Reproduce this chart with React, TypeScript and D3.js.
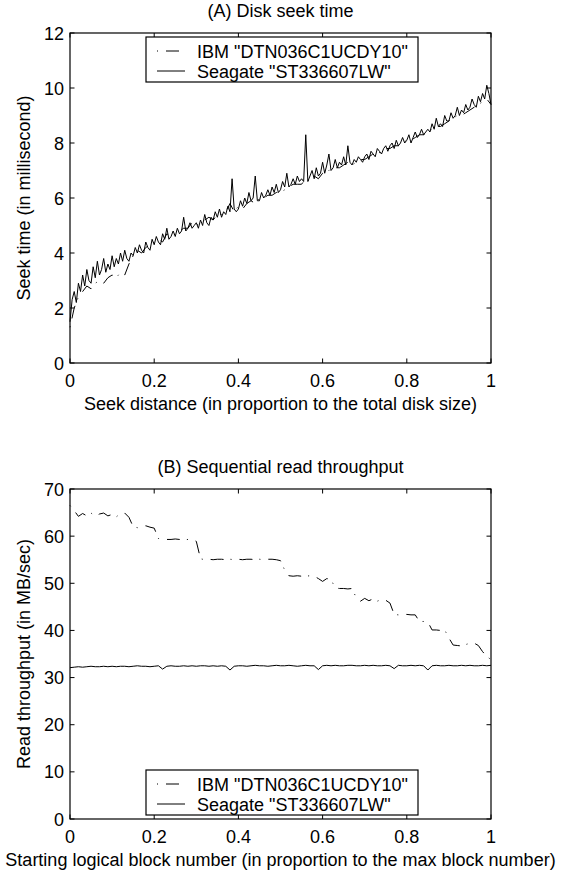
import React from 'react';
import * as d3 from 'd3';

// every series is sampled evenly from 0 to 1 along the x axis
const xTicks = [0, 0.2, 0.4, 0.6, 0.8, 1];
const xTickLabels = ['0', '0.2', '0.4', '0.6', '0.8', '1'];
const seekTicks = [0, 2, 4, 6, 8, 10, 12];
const tputTicks = [0, 10, 20, 30, 40, 50, 60, 70];
const seriesNames = ['IBM "DTN036C1UCDY10"', 'Seagate "ST336607LW"'];

// step 0.01
const ibmSeek = [
  1.3, 2.0, 2.4, 2.6, 2.8, 2.7, 2.9, 3.0, 2.9, 3.1,
  3.2, 3.1, 3.3, 3.2, 3.6, 3.9, 4.1, 4.0, 4.2, 4.3,
  4.4, 4.5, 4.4, 4.7, 4.6, 4.7, 4.8, 4.9, 4.9, 5.1,
  5.0, 5.1, 5.2, 5.3, 5.2, 5.4, 5.4, 5.5, 5.8, 5.5,
  5.7, 5.6, 5.8, 5.9, 5.8, 6.0, 6.0, 6.1, 6.1, 6.2,
  6.2, 6.3, 6.4, 6.5, 6.5, 6.5, 6.7, 6.6, 6.8, 6.7,
  6.9, 6.9, 7.1, 7.1, 7.1, 7.2, 7.3, 7.2, 7.3, 7.4,
  7.4, 7.5, 7.6, 7.6, 7.7, 7.8, 7.8, 7.9, 7.9, 8.0,
  8.1, 8.1, 8.2, 8.3, 8.3, 8.4, 8.5, 8.6, 8.6, 8.7,
  8.8, 8.9, 9.0, 9.0, 9.1, 9.2, 9.3, 9.4, 9.5, 9.6,
  9.4,
];

// step 0.005
const seagateSeek = [
  1.5, 2.3, 2.6, 2.2, 2.9, 2.6, 3.2, 2.8, 3.4, 3.0,
  2.9, 3.5, 3.1, 3.7, 3.2, 3.4, 3.8, 3.3, 3.6, 3.4,
  3.9, 3.5, 3.8, 3.6, 4.0, 3.7, 4.1, 3.8, 3.7, 4.0,
  3.9, 4.2, 4.0, 4.3, 4.1, 4.0, 4.4, 4.2, 4.1, 4.5,
  4.3, 4.6, 4.4, 4.3, 4.7, 4.5, 4.9, 4.5, 4.6, 4.8,
  4.6, 4.9, 4.7, 4.8, 5.3, 4.8, 4.9, 5.1, 4.9, 5.0,
  5.1, 4.9, 5.2, 5.0, 5.4, 5.1, 5.0, 5.3, 5.2, 5.5,
  5.3, 5.6, 5.3, 5.5, 5.4, 5.7, 5.5, 6.7, 5.6, 5.5,
  5.6, 5.9, 5.7, 6.0, 5.8, 6.2, 5.9, 6.0, 6.8, 5.9,
  5.9, 6.2, 6.0, 6.1, 6.3, 6.1, 6.4, 6.2, 6.5, 6.2,
  6.3, 6.6, 6.4, 6.9, 6.4, 6.5, 6.7, 6.5, 6.8, 6.6,
  6.7, 6.6, 8.3, 6.6, 6.8, 7.0, 6.7, 7.1, 6.8, 6.9,
  7.3, 6.9, 7.2, 7.6, 7.0, 7.1, 7.4, 7.1, 7.3, 7.2,
  7.5, 7.2, 7.9, 7.3, 7.2, 7.4, 7.3, 7.5, 7.4, 7.3,
  7.5, 7.6, 7.4, 7.7, 7.6, 7.5, 7.8, 7.7, 7.6, 7.8,
  7.9, 7.7, 7.9, 8.0, 7.8, 8.1, 7.9, 8.0, 8.2, 8.0,
  8.1, 8.3, 8.0, 8.2, 8.4, 8.2, 8.3, 8.5, 8.3, 8.4,
  8.5, 8.4, 8.7, 8.5, 8.9, 8.6, 8.7, 8.6, 9.0, 8.8,
  8.8, 9.1, 8.9, 9.0, 9.3, 9.0, 9.2, 9.1, 9.4, 9.2,
  9.3, 9.6, 9.4, 9.3, 9.7, 9.5, 9.8, 9.6, 10.1, 9.8,
  9.4,
];

// step 0.01
const ibmTput = [
  66.5, 65.4, 64.2, 64.8, 64.3, 64.9, 64.2, 64.7, 64.9, 64.3,
  64.6, 64.1, 64.8, 64.9, 64.0, 62.0, 61.8, 61.9, 62.2, 61.9,
  61.7, 59.5, 59.4, 59.3, 59.3, 59.4, 59.3, 59.2, 59.3, 59.3,
  58.9, 55.2, 55.0, 55.1, 55.0, 55.1, 55.1, 55.0, 55.1, 55.0,
  55.1, 55.0, 55.1, 55.1, 55.0, 55.1, 55.0, 55.1, 55.1, 55.0,
  54.8, 52.8, 51.6, 51.5, 51.6, 51.5, 51.5, 51.6, 51.5, 51.0,
  50.4, 51.0, 50.8, 49.0, 48.9, 48.9, 48.8, 48.9, 46.9, 46.2,
  46.8, 46.3, 46.7, 46.2, 46.6, 46.4, 45.8, 43.4, 43.3, 43.3,
  43.4, 43.3, 43.3, 41.9, 41.9, 41.8, 40.1, 40.1, 40.0, 40.1,
  38.4, 36.9, 36.8, 36.7, 37.0, 37.3, 37.3, 36.8, 35.5, 34.5,
  33.8,
];

// step 0.01
const seagateTput = [
  32.1, 32.2, 32.3, 32.2, 32.3, 32.4, 32.3, 32.3, 32.4, 32.3,
  32.4, 32.3, 32.4, 32.4, 32.3, 32.4, 32.5, 32.4, 32.4, 32.3,
  32.4, 32.5, 31.8, 32.4, 32.5, 32.4, 32.4, 32.5, 32.4, 32.5,
  32.4, 32.5, 32.5, 32.4, 32.5, 32.4, 32.5, 32.4, 31.6, 32.4,
  32.5, 32.5, 32.4, 32.5, 32.6, 32.5, 32.5, 32.4, 32.5, 32.6,
  32.5, 32.5, 32.6, 32.5, 32.4, 32.5, 32.6, 32.5, 32.5, 31.7,
  32.5, 32.6, 32.5, 32.6, 32.5, 32.5, 32.6, 32.6, 32.5, 32.5,
  32.6, 32.5, 32.6, 32.5, 32.5, 32.6, 32.5, 31.9, 32.6, 32.5,
  32.5, 32.6, 32.5, 32.6, 32.5, 31.6, 32.5, 32.6, 32.5, 32.5,
  32.6, 32.5, 32.5, 32.6, 32.5, 32.6, 32.5, 32.5, 32.6, 32.5,
  32.6,
];

const FONT = '"Liberation Sans", Arial, Helvetica, sans-serif';
const DASHDOT = '1,8,13,7';
const X0 = 70;
const X1 = 491;
const PH = 330;
const TICK = 4.5;

function Panel({ top, domain, ticks, title, xLabel, yLabel, ibm, seagate, legendTop }) {
  const x = d3.scaleLinear().domain([0, 1]).range([X0, X1]);
  const y = d3.scaleLinear().domain(domain).range([top + PH, top]);
  const bottom = top + PH;
  const line = d3
    .line<number>()
    .x((_, i, arr) => x(i / (arr.length - 1)))
    .y((d) => y(d));
  const midX = (X0 + X1) / 2;

  return (
    <g>
      <text x={midX} y={top - 16} textAnchor="middle" fontSize={18}>{title}</text>
      <path d={line(ibm) || ''} fill="none" stroke="#000" strokeWidth={1} strokeDasharray={DASHDOT} />
      <path d={line(seagate) || ''} fill="none" stroke="#000" strokeWidth={1} />
      <rect x={X0} y={top} width={X1 - X0} height={PH} fill="none" stroke="#000" strokeWidth={1.2} />
      {xTicks.map((t, i) => (
        <g key={'x' + t}>
          <line x1={x(t)} x2={x(t)} y1={bottom} y2={bottom - TICK} stroke="#000" />
          <line x1={x(t)} x2={x(t)} y1={top} y2={top + TICK} stroke="#000" />
          <text x={x(t)} y={bottom + 24} textAnchor="middle" fontSize={18}>{xTickLabels[i]}</text>
        </g>
      ))}
      {ticks.map((t) => (
        <g key={'y' + t}>
          <line x1={X0} x2={X0 + TICK} y1={y(t)} y2={y(t)} stroke="#000" />
          <line x1={X1} x2={X1 - TICK} y1={y(t)} y2={y(t)} stroke="#000" />
          <text x={X0 - 6} y={y(t) + 6.5} textAnchor="end" fontSize={18}>{t}</text>
        </g>
      ))}
      <text x={midX} y={bottom + 47} textAnchor="middle" fontSize={18}>{xLabel}</text>
      <text
        transform={`translate(30, ${top + PH / 2}) rotate(-90)`}
        textAnchor="middle"
        fontSize={18}
      >
        {yLabel}
      </text>
      <g>
        <rect x={146} y={legendTop} width={272} height={45} fill="#fff" stroke="#000" strokeWidth={1.2} />
        <line x1={157} x2={185} y1={legendTop + 14} y2={legendTop + 14} stroke="#000" strokeDasharray={DASHDOT} />
        <text x={197} y={legendTop + 20.5} fontSize={18}>{seriesNames[0]}</text>
        <line x1={157} x2={185} y1={legendTop + 34} y2={legendTop + 34} stroke="#000" />
        <text x={197} y={legendTop + 40.5} fontSize={18}>{seriesNames[1]}</text>
      </g>
    </g>
  );
}

export default function App() {
  return (
    <svg
      width={566}
      height={871}
      style={{ position: 'absolute', left: 0, top: 0, background: '#fff' }}
      fontFamily={FONT}
    >
      <rect x={0} y={0} width={566} height={871} fill="#fff" />
      <Panel
        top={33}
        domain={[0, 12]}
        ticks={seekTicks}
        title="(A) Disk seek time"
        xLabel="Seek distance (in proportion to the total disk size)"
        yLabel="Seek time (in millisecond)"
        ibm={ibmSeek}
        seagate={seagateSeek}
        legendTop={37}
      />
      <Panel
        top={489}
        domain={[0, 70]}
        ticks={tputTicks}
        title="(B) Sequential read throughput"
        xLabel="Starting logical block number (in proportion to the max block number)"
        yLabel="Read throughput (in MB/sec)"
        ibm={ibmTput}
        seagate={seagateTput}
        legendTop={770}
      />
    </svg>
  );
}
